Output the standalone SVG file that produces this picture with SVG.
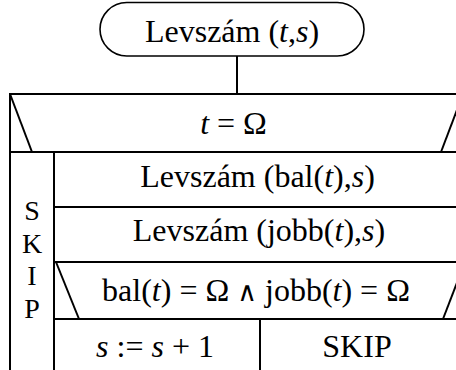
<svg xmlns="http://www.w3.org/2000/svg" width="456" height="370" viewBox="0 0 456 370" font-family="Liberation Serif, DejaVu Serif, serif">
  <style>
    text { font-family: 'Liberation Serif', 'DejaVu Serif', serif; font-size: 32px; fill: #000; text-anchor: middle; }
    .i { font-style: italic; }
    .op { font-family: 'DejaVu Serif', serif; font-size: 27px; }
    .vert { font-size: 28px; }
    .ln { stroke: #000; stroke-width: 2; fill: none; }
    .term { stroke: #000; stroke-width: 1.6; fill: #fff; }
  </style>
  <rect width="456" height="370" fill="#fff"/>

  <!-- start terminal -->
  <g id="start">
    <rect class="term" x="100" y="2.5" width="264" height="53.5" rx="26.75" ry="26.75"/>
    <text x="232" y="41.5">Levszám (<tspan class="i">t</tspan>,<tspan class="i">s</tspan>)</text>
  </g>

  <g id="connectors">
    <line class="ln" x1="237" y1="56" x2="237" y2="94"/>
  </g>

  <!-- outer selection: t = Ω -->
  <g id="cond-outer">
    <path class="ln" d="M10 370 V94 H470"/>
    <line class="ln" x1="10" y1="152" x2="470" y2="152"/>
    <line class="ln" x1="10" y1="94" x2="32" y2="152"/>
    <line class="ln" x1="441" y1="152" x2="463" y2="94"/>
    <text x="233.5" y="134"><tspan class="i">t</tspan> = Ω</text>
  </g>

  <!-- SKIP branch, written vertically -->
  <g id="skip-left">
    <line class="ln" x1="54" y1="152" x2="54" y2="370"/>
    <text class="vert"><tspan x="32" y="220">S</tspan><tspan x="32" y="252.5">K</tspan><tspan x="32" y="285">I</tspan><tspan x="32" y="317.5">P</tspan></text>
  </g>

  <g id="call-bal">
    <line class="ln" x1="54" y1="207" x2="470" y2="207"/>
    <text x="257.5" y="187">Levszám (bal(<tspan class="i">t</tspan>),<tspan class="i">s</tspan>)</text>
  </g>

  <g id="call-jobb">
    <line class="ln" x1="54" y1="262" x2="470" y2="262"/>
    <text x="259" y="241">Levszám (jobb(<tspan class="i">t</tspan>),<tspan class="i">s</tspan>)</text>
  </g>

  <!-- inner selection: leaf test -->
  <g id="cond-inner">
    <line class="ln" x1="54" y1="319" x2="470" y2="319"/>
    <line class="ln" x1="56" y1="262" x2="79" y2="319"/>
    <line class="ln" x1="443" y1="319" x2="465" y2="262"/>
    <text x="256" y="301">bal(<tspan class="i">t</tspan>) = Ω <tspan class="op">∧</tspan> jobb(<tspan class="i">t</tspan>) = Ω</text>
  </g>

  <g id="incr">
    <line class="ln" x1="260" y1="318" x2="260" y2="370"/>
    <text x="155" y="357"><tspan class="i">s</tspan> := <tspan class="i">s</tspan> + 1</text>
  </g>

  <g id="skip-right">
    <text x="357" y="357">SKIP</text>
  </g>
</svg>
